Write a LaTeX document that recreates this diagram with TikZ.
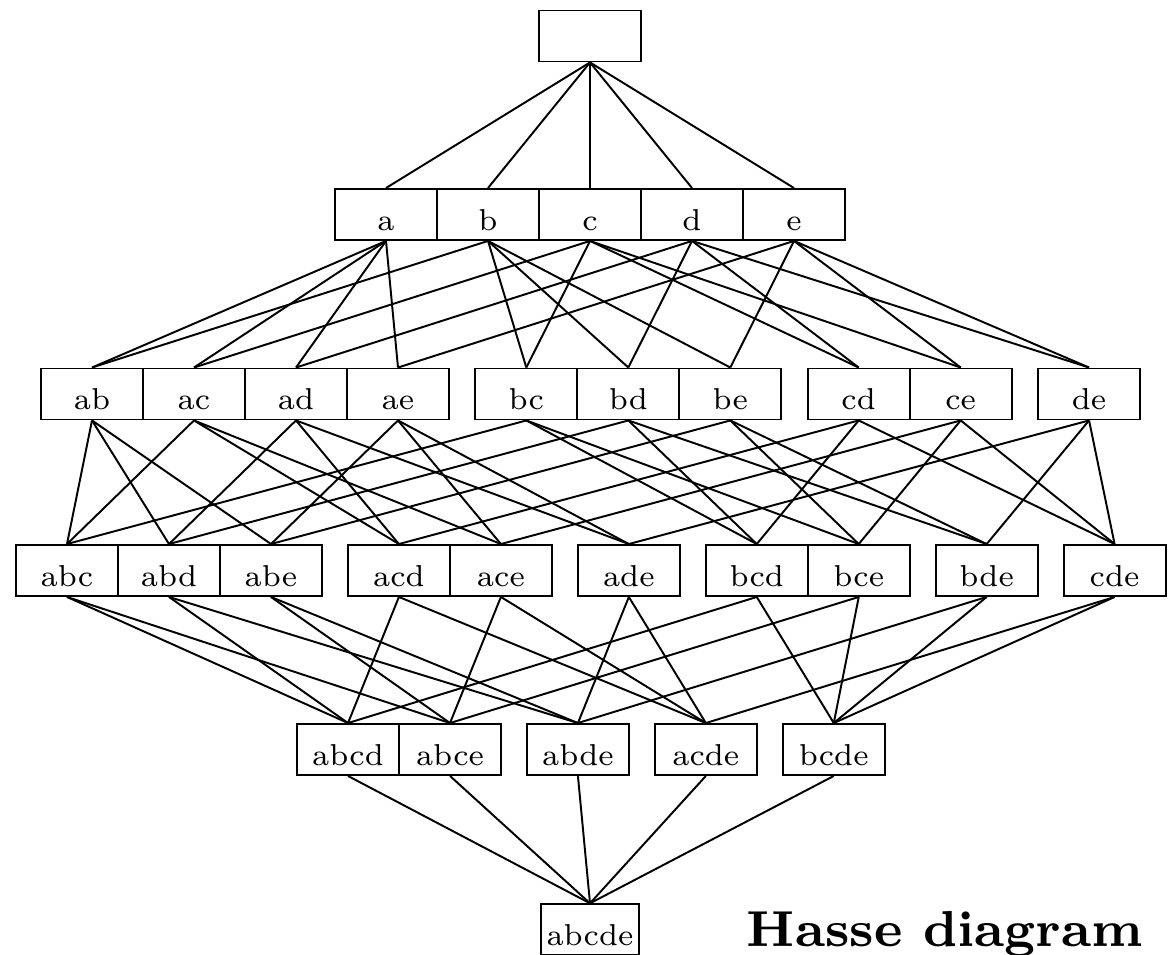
\documentclass[tikz,border=0pt]{standalone}
\usepackage{amsmath}
\usepackage{tikz}
\usetikzlibrary{positioning}

\font\hassefont="[lmroman8-bold.otf]" at 11.7pt

\tikzset{
  subset/.style={draw, minimum width=23.61pt, inner xsep=0pt, inner ysep=2.3pt,
    text height=7.2pt, text depth=0pt, font=\fontsize{7}{8}\selectfont},
  fullset/.style={subset, minimum width=22.69pt},
}

\begin{document}
\begin{tikzpicture}[x=0.23148pt,y=-0.23148pt,node distance=23.61pt,line width=0.45pt]
    \useasboundingbox (0,0) rectangle (1169,955);
    %% Empty set
    \node[subset] (0) at (590,36) {};
    %% One element
    \node[subset] (a) at (386,214.5) {a};
    \node[subset,right of=a] (b) {b};
    \node[subset,right of=b] (c) {c};
    \node[subset,right of=c] (d) {d};
    \node[subset,right of=d] (e) {e};
    %% Two elements
    \node[subset] (ab) at (92,394) {ab};
    \node[subset,right of=ab] (ac) {ac};
    \node[subset,right of=ac] (ad) {ad};
    \node[subset,right of=ad] (ae) {ae};
    \node[subset,right of=ae,xshift=6.1pt] (bc) {bc};
    \node[subset,right of=bc] (bd) {bd};
    \node[subset,right of=bd] (be) {be};
    \node[subset,right of=be,xshift=6.1pt] (cd) {cd};
    \node[subset,right of=cd] (ce) {ce};
    \node[subset,right of=ce,xshift=6.1pt] (de) {de};
    %% Three elements
    \node[subset] (abc) at (67,570.5) {abc};
    \node[subset,right of=abc] (abd) {abd};
    \node[subset,right of=abd] (abe) {abe};
    \node[subset,right of=abe,xshift=6pt] (acd) {acd};
    \node[subset,right of=acd] (ace) {ace};
    \node[subset,right of=ace,xshift=6pt] (ade) {ade};
    \node[subset,right of=ade,xshift=6pt] (bcd) {bcd};
    \node[subset,right of=bcd] (bce) {bce};
    \node[subset,right of=bce,xshift=6pt] (bde) {bde};
    \node[subset,right of=bde,xshift=6pt] (cde) {cde};
    %% Four elements
    \node[subset] (abcd) at (348,749.5) {abcd};
    \node[subset,right of=abcd] (abce) {abce};
    \node[subset,right of=abce,xshift=6pt] (abde) {abde};
    \node[subset,right of=abde,xshift=6pt] (acde) {acde};
    \node[subset,right of=acde,xshift=6pt] (bcde) {bcde};
    %% Five elements
    \node[fullset] (abcde) at (590,929.75) {abcde};
    \node[anchor=base west,inner sep=0pt,font=\hassefont] (title) at (746,946.7) {Hasse diagram};
    %% Edges
    \foreach \q in {a,b,c,d,e}
      \draw (0.south) -- (\q.north);
    \foreach \p/\q in {a/ab,a/ac,a/ad,a/ae,b/ab,b/bc,b/bd,b/be,c/ac,c/bc,c/cd,c/ce,
                       d/ad,d/bd,d/cd,d/de,e/ae,e/be,e/ce,e/de}
      \draw (\p.south) -- (\q.north);
    \foreach \p/\q in {ab/abc,ab/abd,ab/abe,ac/abc,ac/acd,ac/ace,ad/abd,ad/acd,ad/ade,
                       ae/abe,ae/ace,ae/ade,bc/abc,bc/bcd,bc/bce,bd/abd,bd/bcd,bd/bde,
                       be/abe,be/bce,be/bde,cd/acd,cd/bcd,cd/cde,ce/ace,ce/bce,ce/cde,
                       de/ade,de/bde,de/cde}
      \draw (\p.south) -- (\q.north);
    \foreach \p/\q in {abc/abcd,abc/abce,abd/abcd,abd/abde,abe/abce,abe/abde,
                       acd/abcd,acd/acde,ace/abce,ace/acde,ade/abde,ade/acde,
                       bcd/abcd,bcd/bcde,bce/abce,bce/bcde,bde/abde,bde/bcde,
                       cde/acde,cde/bcde}
      \draw (\p.south) -- (\q.north);
    \foreach \p in {abcd,abce,abde,acde,bcde}
      \draw (\p.south) -- (abcde.north);
  \end{tikzpicture}
\end{document}
